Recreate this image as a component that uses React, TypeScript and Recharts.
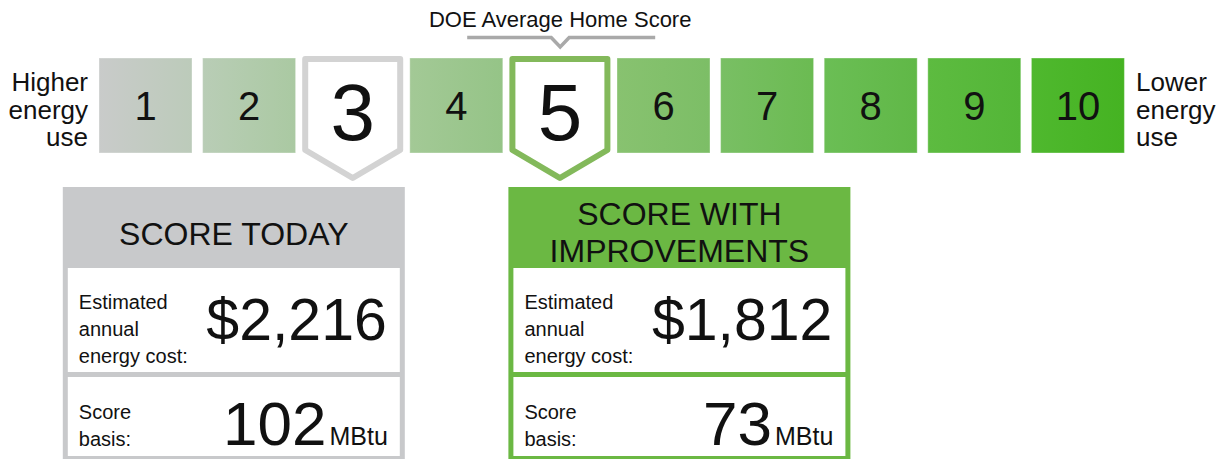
import React from "react";
import { BarChart, Bar, XAxis, YAxis, LabelList, Customized } from "recharts";

// ---- data ----
const scores = [1, 2, 3, 4, 5, 6, 7, 8, 9, 10];
const tileColorLeft = ["#c9cbca", "#b9cdb6", "#b0cca8", "#a3c996", "#92c582", "#88c270", "#79bf64", "#6bbe55", "#5dbb40", "#4fb82e"];
const tileColorRight = ["#bccbba", "#aac9a2", "#a0c794", "#95c487", "#87c176", "#7cbe66", "#6bbb52", "#60b847", "#53b637", "#45b322"];
const currentScore = 3;
const improvedScore = 5;
const doeAverageScore = 5;
const leftLabel = ["Higher", "energy", "use"];
const rightLabel = ["Lower", "energy", "use"];
const doeLabel = "DOE Average Home Score";
const todayTitle = ["SCORE TODAY"];
const improvedTitle = ["SCORE WITH", "IMPROVEMENTS"];
const costLabel = ["Estimated", "annual", "energy cost:"];
const basisLabel = ["Score", "basis:"];
const costToday = 2216;
const costImproved = 1812;
const basisToday = 102;
const basisImproved = 73;
const basisUnit = "MBtu";

const data = scores.map((s) => ({ score: s, v: 1 }));

// ---- layout ----
const W = 1226;
const H = 459;
const M = { top: 58, right: 96, bottom: 306, left: 94 };
const BAND = (W - M.left - M.right) / scores.length;
const FONT = "'Liberation Sans', Arial, Helvetica, sans-serif";
const GREY = "#c8c9cb";
const GREEN = "#6bb843";
const PENT_GREY = "#d3d3d3";
const PENT_GREEN = "#83b95b";

const fmtCost = (n: number) => "$" + n.toLocaleString("en-US");

const TileShape = (props: any) => {
  const { x, y, width, height, payload, index } = props;
  const s = payload.score;
  if (s === currentScore || s === improvedScore) {
    const l = x - 1;
    const r = x + width + 1;
    const t = y + 1;
    const c = y + height - 3;
    const tip = y + height + 25;
    const mid = x + width / 2;
    return (
      <path
        d={`M${l},${t} L${r},${t} L${r},${c} L${mid},${tip} L${l},${c} Z`}
        fill="#ffffff"
        stroke={s === improvedScore ? PENT_GREEN : PENT_GREY}
        strokeWidth={6}
        strokeLinejoin="round"
      />
    );
  }
  return <rect x={x} y={y} width={width} height={height} fill={`url(#tile-${index})`} stroke="rgba(255,255,255,0.35)" strokeWidth={1} />;
};

const TileLabel = (props: any) => {
  const { x, y, width, value } = props;
  const big = value === currentScore || value === improvedScore;
  return (
    <text
      x={x + width / 2}
      y={y + (big ? 82 : 62)}
      textAnchor="middle"
      fontSize={big ? 80 : 40}
      fontFamily={FONT}
      fill="#111"
    >
      {value}
    </text>
  );
};

const bandStart = (s: number) => M.left + (s - 1) * BAND;
const bandCenter = (s: number) => bandStart(s) + BAND / 2;

const ScoreBox = ({
  left,
  width,
  color,
  title,
  cost,
  basis,
}: {
  left: number;
  width: number;
  color: string;
  title: string[];
  cost: number;
  basis: number;
}) => {
  const top = 187;
  const b = 5;
  const headerBottom = 268;
  const sepTop = 372;
  const sepBottom = 377;
  const bottom = 461;
  const innerL = left + b;
  const innerR = left + width - b;
  const cx = left + width / 2;
  const titleBaselines = title.length === 1 ? [245] : [225, 262];
  return (
    <g fontFamily={FONT} fill="#111">
      <rect x={left} y={top} width={width} height={bottom - top} fill={color} />
      <rect x={innerL} y={headerBottom} width={innerR - innerL} height={sepTop - headerBottom} fill="#fff" />
      <rect x={innerL} y={sepBottom} width={innerR - innerL} height={bottom - b - sepBottom} fill="#fff" />
      {title.map((t, i) => (
        <text key={i} x={cx} y={titleBaselines[i]} textAnchor="middle" fontSize={32}>
          {t}
        </text>
      ))}
      {costLabel.map((t, i) => (
        <text key={i} x={innerL + 11} y={309 + i * 27} fontSize={20}>
          {t}
        </text>
      ))}
      <text x={innerR - 13} y={340} textAnchor="end" fontSize={59}>
        {fmtCost(cost)}
      </text>
      {basisLabel.map((t, i) => (
        <text key={i} x={innerL + 11} y={419 + i * 27} fontSize={20}>
          {t}
        </text>
      ))}
      <text x={innerR - 12} y={445} textAnchor="end">
        <tspan fontSize={62}>{basis}</tspan>
        <tspan fontSize={25} dx={3}>{basisUnit}</tspan>
      </text>
    </g>
  );
};

const Overlay = () => {
  const doeX = bandCenter(doeAverageScore);
  const box1Right = bandStart(currentScore) + BAND;
  const box2Left = bandStart(improvedScore);
  const boxW = 342;
  return (
    <g fontFamily={FONT} fill="#111">
      {leftLabel.map((t, i) => (
        <text key={i} x={88} y={91 + i * 27.5} textAnchor="end" fontSize={26}>
          {t}
        </text>
      ))}
      {rightLabel.map((t, i) => (
        <text key={i} x={1136} y={91 + i * 27.5} textAnchor="start" fontSize={26}>
          {t}
        </text>
      ))}
      <text x={doeX} y={27} textAnchor="middle" fontSize={22}>
        {doeLabel}
      </text>
      <polyline
        points={`${doeX - 93},37.5 ${doeX - 9},37.5 ${doeX},47 ${doeX + 9},37.5 ${doeX + 95},37.5`}
        fill="none"
        stroke="#a9a9a9"
        strokeWidth={3.5}
      />
      <ScoreBox left={box1Right - boxW} width={boxW} color={GREY} title={todayTitle} cost={costToday} basis={basisToday} />
      <ScoreBox left={box2Left} width={boxW} color={GREEN} title={improvedTitle} cost={costImproved} basis={basisImproved} />
    </g>
  );
};

export default function App() {
  return (
    <div style={{ position: "absolute", left: 0, top: 0, width: W, height: H, background: "#fff" }}>
      <BarChart width={W} height={H} data={data} margin={M}>
        <defs>
          {scores.map((s, i) => (
            <linearGradient key={s} id={`tile-${i}`} x1="0" y1="0" x2="1" y2="0">
              <stop offset="0%" stopColor={tileColorLeft[i]} />
              <stop offset="100%" stopColor={tileColorRight[i]} />
            </linearGradient>
          ))}
        </defs>
        <XAxis dataKey="score" type="category" hide />
        <YAxis domain={[0, 1]} hide />
        <Bar dataKey="v" barSize={93} shape={TileShape} isAnimationActive={false}>
          <LabelList dataKey="score" content={TileLabel} />
        </Bar>
        <Customized component={<Overlay />} />
      </BarChart>
    </div>
  );
}
